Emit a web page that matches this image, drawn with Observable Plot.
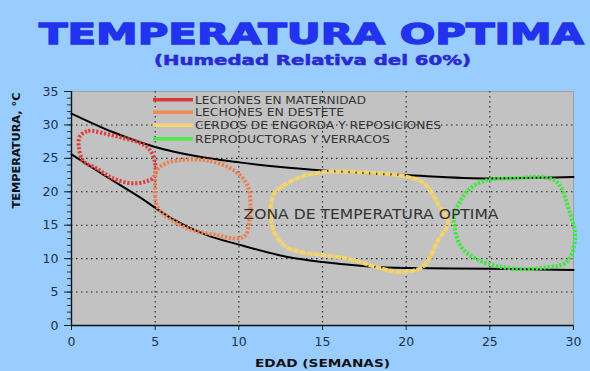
<!DOCTYPE html>
<html>
<head>
<meta charset="utf-8">
<script src="https://cdn.jsdelivr.net/npm/d3@7"></script>
<script src="https://cdn.jsdelivr.net/npm/@observablehq/plot@0.6"></script>
<style>
  html, body { margin: 0; padding: 0; background: #99ccff; }
  #wrap { position: relative; width: 590px; height: 371px; overflow: hidden; }
  #wrap svg { display: block; }
  #legend { position: absolute; left: 0; top: 0; pointer-events: none; }
</style>
</head>
<body>
<div id="wrap"></div>
<script>
// ---------- data ----------
const titleText = "TEMPERATURA OPTIMA";
const subtitleText = "(Humedad Relativa del 60%)";
const xLabel = "EDAD (SEMANAS)";
const yLabel = "TEMPERATURA, °C";
const xTicks = [0, 5, 10, 15, 20, 25, 30];
const yTicks = [0, 5, 10, 15, 20, 25, 30, 35];
const yMinor = d3.range(0, 36);

// upper and lower limit curves
const upperX = [0, 2.5, 5, 7.5, 10, 12.5, 15, 20, 25, 30];
const upperY = [31.7, 28.9, 26.7, 25.3, 24.4, 23.7, 23.2, 22.5, 22.0, 22.2];
const lowerX = [0, 2, 4, 6, 8, 10, 13, 15, 20, 25, 30];
const lowerY = [25.6, 22.4, 19.3, 16.0, 13.6, 12.1, 10.2, 9.5, 8.6, 8.5, 8.3];

// zones (closed outlines)
const seriesNames = ["LECHONES EN MATERNIDAD", "LECHONES EN DESTETE", "CERDOS DE ENGORDA Y REPOSICIONES", "REPRODUCTORAS Y VERRACOS"];
const redX = [0.5, 1.0, 2.0, 3.0, 4.0, 4.6, 4.95, 4.95, 4.4, 3.5, 2.4, 1.5, 0.7, 0.45];
const redY = [28.3, 29.1, 28.7, 28.1, 27.4, 26.5, 24.8, 22.3, 21.5, 21.3, 22.1, 23.5, 24.6, 26.5];
const orangeX = [6.9, 8.3, 9.7, 10.5, 10.7, 10.6, 10.4, 9.9, 8.7, 7.2, 5.8, 5.1, 5.0, 5.1, 5.7];
const orangeY = [24.8, 24.6, 23.2, 21.0, 17.7, 15.2, 13.5, 13.0, 13.5, 14.3, 16.1, 17.9, 20.2, 23.2, 24.3];
const yellowX = [12.1, 12.6, 13.6, 14.9, 17.5, 20.1, 21.1, 21.9, 22.5, 21.9, 21.0, 19.6, 18.4, 16.5, 13.7, 12.8, 12.1, 11.9];
const yellowY = [19.7, 20.8, 22.1, 22.9, 22.9, 22.2, 21.2, 18.2, 15.4, 12.7, 8.8, 8.0, 8.6, 10.0, 11.0, 11.8, 14.0, 16.7];
const greenX = [22.9, 23.7, 24.8, 26.5, 28.4, 29.1, 29.8, 30.1, 29.6, 28.4, 26.4, 24.4, 23.3, 22.9];
const greenY = [16.7, 20.2, 21.7, 22.0, 22.1, 21.2, 16.7, 13.2, 9.5, 8.7, 8.5, 9.7, 11.7, 14.7];

const zoneLabel = ["ZONA DE TEMPERATURA OPTIMA"];
const zoneLabelX = [17.9];
const zoneLabelY = [16.6];

// ---------- styles ----------
const zoneColors = ["#e03c3a", "#f07c4a", "#f3d36c", "#3ee83e"];
const legendColors = ["#d83a3a", "#f08a50", "#f6d670", "#4aec4a"];
const zoneDash = ["2.2,1.8", "2.2,1.8", "6,1", "2.4,1.6"];

const upper = upperX.map((x, i) => ({x, y: upperY[i]}));
const lower = lowerX.map((x, i) => ({x, y: lowerY[i]}));
const zones = [[redX, redY], [orangeX, orangeY], [yellowX, yellowY], [greenX, greenY]]
  .map(([xs, ys], k) => xs.map((x, i) => ({x, y: ys[i], k})));
const zoneText = zoneLabel.map((t, i) => ({t, x: zoneLabelX[i], y: zoneLabelY[i]}));

const wrap = d3.select("#wrap");

// ---------- title ----------
const head = wrap.append("svg").attr("width", 590).attr("height", 80);
head.append("text").attr("x", 311.5).attr("y", 43.5).attr("text-anchor", "middle")
  .attr("font-family", "DejaVu Sans").attr("font-weight", "bold").attr("font-size", 28.5)
  .attr("fill", "#2233ee").attr("stroke", "#2233ee").attr("stroke-width", 1.3)
  .attr("textLength", 545).attr("lengthAdjust", "spacingAndGlyphs").text(titleText);
head.append("text").attr("x", 312.5).attr("y", 64.5).attr("text-anchor", "middle")
  .attr("font-family", "DejaVu Sans").attr("font-weight", "bold").attr("font-size", 13.5)
  .attr("fill", "#2a2ad0").attr("stroke", "#2a2ad0").attr("stroke-width", 0.5)
  .attr("textLength", 317).attr("lengthAdjust", "spacingAndGlyphs").text(subtitleText);

// ---------- chart ----------
const grid = {stroke: "#222", strokeOpacity: 1, strokeWidth: 1.1, strokeDasharray: "1.5,3.5"};
const chart = Plot.plot({
  width: 590, height: 291,
  marginLeft: 71, marginRight: 17, marginTop: 11, marginBottom: 46,
  style: {background: "transparent", fontFamily: "DejaVu Sans", overflow: "visible"},
  x: {domain: [0, 30]},
  y: {domain: [0, 35]},
  marks: [
    Plot.frame({fill: "#c2c2c2", stroke: "#a0a0a0"}),
    Plot.gridY(yTicks.filter(d => d > 0 && d < 35), grid),
    Plot.gridX(xTicks.filter(d => d > 0 && d < 30), grid),
    Plot.axisY(yMinor, {tickSize: 4, text: null, stroke: "#333", label: null}),
    Plot.axisY(yTicks, {tickSize: 7, tickPadding: 6, fontSize: 12.5, fill: "#203050", stroke: "#222", label: null}),
    Plot.axisX(xTicks, {tickSize: 5, tickPadding: 7, fontSize: 12.5, fill: "#203050", stroke: "#222", label: null}),
    Plot.ruleX([0], {stroke: "#111", strokeWidth: 1.4}),
    Plot.ruleY([0], {stroke: "#111", strokeWidth: 1.4}),
    Plot.line(upper, {x: "x", y: "y", curve: "monotone-x", stroke: "#000", strokeWidth: 2}),
    Plot.line(lower, {x: "x", y: "y", curve: "monotone-x", stroke: "#000", strokeWidth: 2}),
    ...zones.map((z, k) => Plot.line(z, {x: "x", y: "y", curve: "catmull-rom-closed",
      stroke: zoneColors[k], strokeWidth: 4, strokeDasharray: zoneDash[k],
      strokeLinecap: "butt", strokeLinejoin: "miter"})),
    Plot.text(zoneText, {x: "x", y: "y", text: "t", fontSize: 13.5, fill: "#333", className: "zonetxt"}),
    Plot.text([xLabel], {text: d => d, frameAnchor: "bottom", dy: 41, lineAnchor: "bottom",
      fontWeight: "bold", fontSize: 11, fill: "#111", className: "xlab"}),
    Plot.text([yLabel], {text: d => d, frameAnchor: "left", dx: -55, rotate: -90,
      fontWeight: "bold", fontSize: 11, fill: "#111", className: "ylab"})
  ]
});
wrap.node().appendChild(chart);

const fit = (sel, w) => d3.select(chart).selectAll(sel).attr("textLength", w).attr("lengthAdjust", "spacingAndGlyphs");
fit(".xlab text", 135);
fit(".ylab text", 116);
fit(".zonetxt text", 255);

// ---------- legend ----------
const legendRowsY = [99.7, 112.3, 125.3, 138.7];
const legendWidths = [171, 149, 246, 195];
const leg = wrap.append("svg").attr("id", "legend").attr("width", 590).attr("height", 371);
seriesNames.forEach((name, i) => {
  leg.append("line").attr("x1", 153).attr("x2", 193).attr("y1", legendRowsY[i]).attr("y2", legendRowsY[i])
    .attr("stroke", legendColors[i]).attr("stroke-width", 3.5);
  leg.append("text").attr("x", 195).attr("y", legendRowsY[i] + 3.8)
    .attr("font-family", "DejaVu Sans").attr("font-size", 10).attr("fill", "#333")
    .attr("textLength", legendWidths[i]).attr("lengthAdjust", "spacingAndGlyphs").text(name);
});
</script>
</body>
</html>
